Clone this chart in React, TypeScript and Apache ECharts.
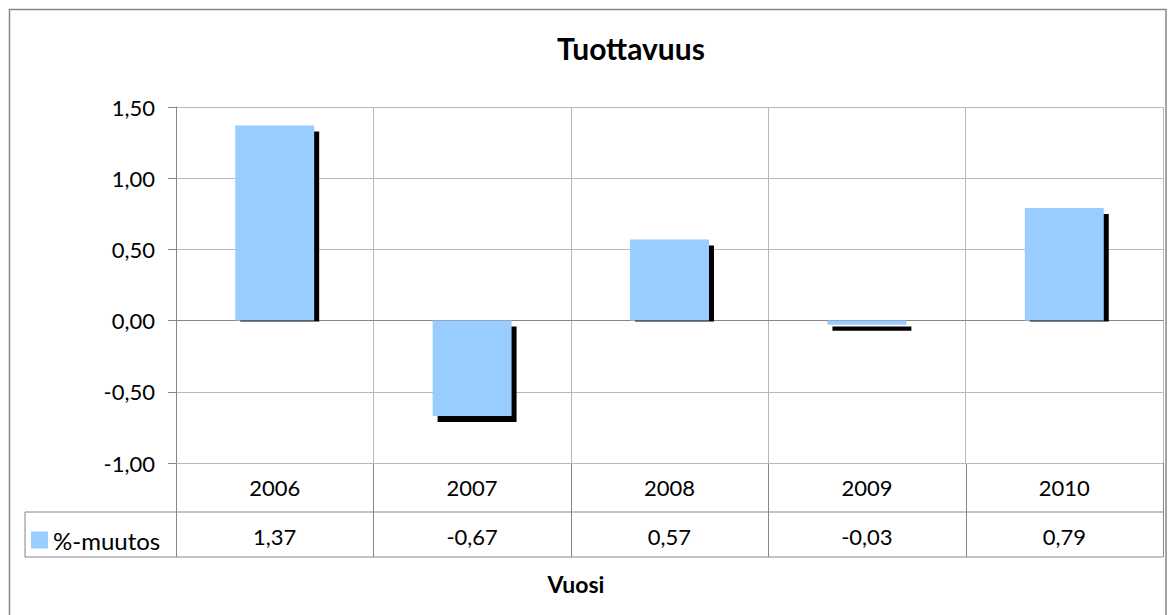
import React, { useEffect, useRef } from 'react';
import * as echarts from 'echarts';

const years = ['2006', '2007', '2008', '2009', '2010'];
const values = [1.37, -0.67, 0.57, -0.03, 0.79];
const seriesName = '%-muutos';
const chartTitle = 'Tuottavuus';
const axisTitle = 'Vuosi';
const yMin = -1;
const yMax = 1.5;
const yStep = 0.5;

const fmt = (v: number) => v.toFixed(2).replace('.', ',');

const FONT = 'Lato';
const LINE = '#868686';
const GRID = '#b8b8b8';
const BAR = '#99CCFF';

export default function App() {
  const ref = useRef<HTMLDivElement>(null);
  useEffect(() => {
    if (!ref.current) return;
    const chart = echarts.init(ref.current, undefined, { renderer: 'svg' });
    const plotLeft = 176;
    const plotRight = 1163;
    const plotTop = 107;
    const plotBottom = 463;
    const rowMid = 512;
    const rowBottom = 557;
    const tableLeft = 25;

    const baseGraphic: any[] = [
      {
        type: 'rect',
        z: -10,
        shape: { x: 9.5, y: 9.5, width: 1156.5, height: 620 },
        style: { fill: 'none', stroke: LINE, lineWidth: 1.5 },
      },
      { type: 'line', shape: { x1: tableLeft, y1: rowMid, x2: plotRight, y2: rowMid }, style: { stroke: LINE, lineWidth: 1 } },
      { type: 'line', shape: { x1: tableLeft, y1: rowBottom, x2: plotRight, y2: rowBottom }, style: { stroke: LINE, lineWidth: 1 } },
      { type: 'line', shape: { x1: tableLeft, y1: rowMid, x2: tableLeft, y2: rowBottom }, style: { stroke: LINE, lineWidth: 1 } },
      {
        type: 'text',
        x: 576,
        y: 584,
        style: {
          text: axisTitle,
          fontFamily: FONT,
          fontSize: 23,
          fontWeight: 'bold',
          fill: '#000',
          align: 'center',
          verticalAlign: 'middle',
        },
      },
    ];

    chart.setOption({
      animation: false,
      backgroundColor: '#fff',
      title: {
        text: chartTitle,
        left: 557,
        top: 33,
        padding: 0,
        textStyle: { fontFamily: FONT, fontSize: 30, fontWeight: 'bold', color: '#000' },
      },
      legend: {
        data: [{ name: seriesName, icon: 'rect' }],
        left: 31,
        top: 528,
        padding: 0,
        itemWidth: 17,
        itemHeight: 17,
        selectedMode: false,
        textStyle: { fontFamily: FONT, fontSize: 24, color: '#000', padding: [0, 0, 0, 0] },
      },
      grid: {
        left: plotLeft,
        top: plotTop,
        right: 1170 - plotRight,
        bottom: 615 - plotBottom,
        containLabel: false,
      },
      xAxis: [
        {
          type: 'category',
          data: years,
          position: 'bottom',
          axisLine: { show: true, lineStyle: { color: LINE, width: 1 } },
          axisTick: { show: false },
          splitLine: { show: true, interval: 0, lineStyle: { color: GRID } },
          axisLabel: { margin: 13, fontFamily: FONT, fontSize: 22, color: '#000', interval: 0 },
        },
        {
          type: 'category',
          data: years,
          position: 'bottom',
          offset: rowMid - plotBottom,
          axisLine: { show: false },
          axisTick: { show: false },
          splitLine: { show: false },
          axisLabel: {
            margin: 13,
            interval: 0,
            fontFamily: FONT,
            fontSize: 22,
            color: '#000',
            formatter: (_v: string, idx: number) => fmt(values[idx]),
          },
        },
      ],
      yAxis: {
        type: 'value',
        min: yMin,
        max: yMax,
        interval: yStep,
        axisLine: { show: true, lineStyle: { color: LINE } },
        axisTick: { show: true, length: 8, lineStyle: { color: LINE } },
        splitLine: { show: true, lineStyle: { color: GRID } },
        axisLabel: { margin: 21, fontFamily: FONT, fontSize: 22, color: '#000', formatter: (v: number) => fmt(v) },
      },
      series: [
        {
          name: seriesName,
          type: 'custom',
          xAxisIndex: 0,
          yAxisIndex: 0,
          itemStyle: { color: BAR },
          encode: { x: 0, y: 1 },
          data: years.map((_y, i) => [i, values[i]]),
          renderItem: (_params: any, api: any) => {
            const idx = api.value(0);
            const v = api.value(1);
            const base = api.coord([idx, 0]);
            const top = api.coord([idx, v]);
            const bw = api.size([1, 0])[0] * 0.4;
            const x = base[0] - bw / 2;
            const y0 = Math.min(base[1], top[1]);
            const h = Math.abs(top[1] - base[1]);
            let sy: number;
            let sh: number;
            if (v >= 0) {
              sy = top[1] + 6;
              sh = base[1] + 1 - sy;
            } else {
              sy = base[1] + 6;
              sh = top[1] + 6 - sy;
            }
            return {
              type: 'group',
              children: [
                { type: 'rect', shape: { x: x + 5, y: sy, width: bw, height: Math.max(sh, 0) }, style: { fill: '#000' } },
                { type: 'rect', shape: { x, y: y0, width: bw, height: h }, style: { fill: api.visual('color') } },
              ],
            };
          },
        },
      ],
      graphic: baseGraphic,
    });

    // column dividers of the data table, taken from the category axis scale
    const c0 = chart.convertToPixel({ xAxisIndex: 0 }, years[0]) as number;
    const c1 = chart.convertToPixel({ xAxisIndex: 0 }, years[1]) as number;
    const band = c1 - c0;
    const dividers: any[] = [];
    for (let k = 0; k <= years.length; k++) {
      const xx = Math.round(c0 - band / 2 + k * band) + 0.5;
      dividers.push({
        type: 'line',
        shape: { x1: xx, y1: plotBottom, x2: xx, y2: rowBottom },
        style: { stroke: LINE, lineWidth: 1 },
      });
    }
    chart.setOption({ graphic: [...baseGraphic, ...dividers] });

    return () => chart.dispose();
  }, []);
  return <div ref={ref} style={{ position: 'absolute', left: 0, top: 0, width: 1170, height: 615 }} />;
}
